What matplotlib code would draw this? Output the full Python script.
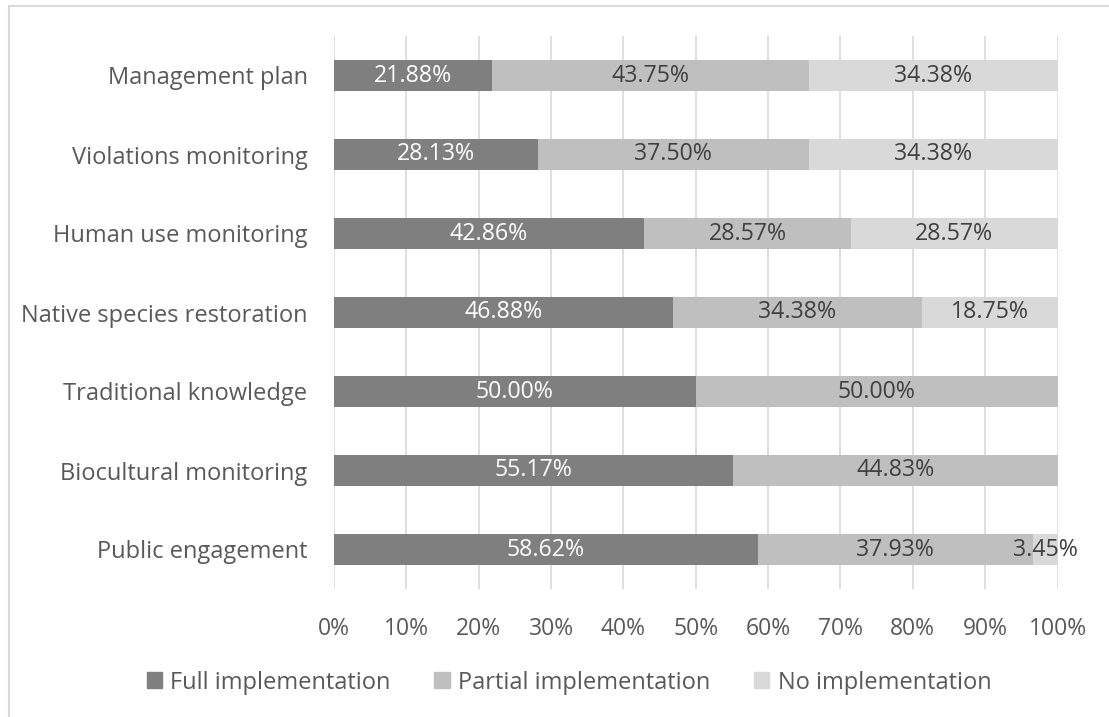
import matplotlib.pyplot as plt
from matplotlib.lines import Line2D
import numpy as np

plt.rcParams['font.family'] = ['Open Sans', 'DejaVu Sans']

categories = ['Management plan', 'Violations monitoring', 'Human use monitoring',
              'Native species restoration', 'Traditional knowledge',
              'Biocultural monitoring', 'Public engagement']
full = [21.88, 28.13, 42.86, 46.88, 50.00, 55.17, 58.62]
partial = [43.75, 37.50, 28.57, 34.38, 50.00, 44.83, 37.93]
none_ = [34.38, 34.38, 28.57, 18.75, 0.00, 0.00, 3.45]
series_names = ['Full implementation', 'Partial implementation', 'No implementation']
ticks = [0, 10, 20, 30, 40, 50, 60, 70, 80, 90, 100]

colors = ['#7f7f7f', '#bfbfbf', '#d9d9d9']
label_colors = ['white', '#404040', '#404040']
text_gray = '#595959'
fs = 17

fig = plt.figure(figsize=(11.09, 7.17), dpi=100)
ax = fig.add_axes([334 / 1109, 1 - 589 / 717, (1057.5 - 334) / 1109, (589 - 36) / 717])

y = np.arange(len(categories))
left = np.zeros(len(categories))
for vals, name, c, lc in zip([full, partial, none_], series_names, colors, label_colors):
    vals = np.array(vals)
    bars = ax.barh(y, vals, left=left, height=0.39, color=c, label=name, zorder=2)
    for b, v in zip(bars, vals):
        if v > 0:
            ax.text(b.get_x() + b.get_width() / 2, b.get_y() + b.get_height() / 2,
                    f'{v:.2f}%', ha='center', va='center', color=lc, fontsize=fs - 0.3, zorder=3)
    left += vals

ax.set_ylim(len(categories) - 0.5, -0.5)
ax.set_xlim(0, 100)
ax.set_yticks(y)
ax.set_yticklabels(categories)
ax.set_xticks(ticks)
ax.set_xticklabels([f'{t}%' for t in ticks])
ax.tick_params(axis='both', length=0, labelsize=fs, labelcolor=text_gray)
ax.tick_params(axis='x', labelsize=fs - 0.5, pad=20)
ax.tick_params(axis='y', pad=19)
ax.grid(axis='x', color='#d9d9d9', linewidth=1.2, zorder=0)
for s in ax.spines.values():
    s.set_visible(False)

handles = [plt.Rectangle((0, 0), 1, 1, color=c) for c in colors]
fig.legend(handles, series_names, loc='center', bbox_to_anchor=(0.513, 0.048), ncol=3,
           frameon=False, fontsize=fs, labelcolor=text_gray, handlelength=0.65,
           handleheight=0.65, handletextpad=0.35, columnspacing=1.85)

# chart area border (left and top edges)
fig.add_artist(Line2D([9 / 1109, 9 / 1109], [0, 1 - 6 / 717], transform=fig.transFigure,
                      color='#d9d9d9', linewidth=1.5))
fig.add_artist(Line2D([9 / 1109, 1], [1 - 6 / 717, 1 - 6 / 717], transform=fig.transFigure,
                      color='#d9d9d9', linewidth=1.5))

fig.savefig('out.png', dpi=100)
